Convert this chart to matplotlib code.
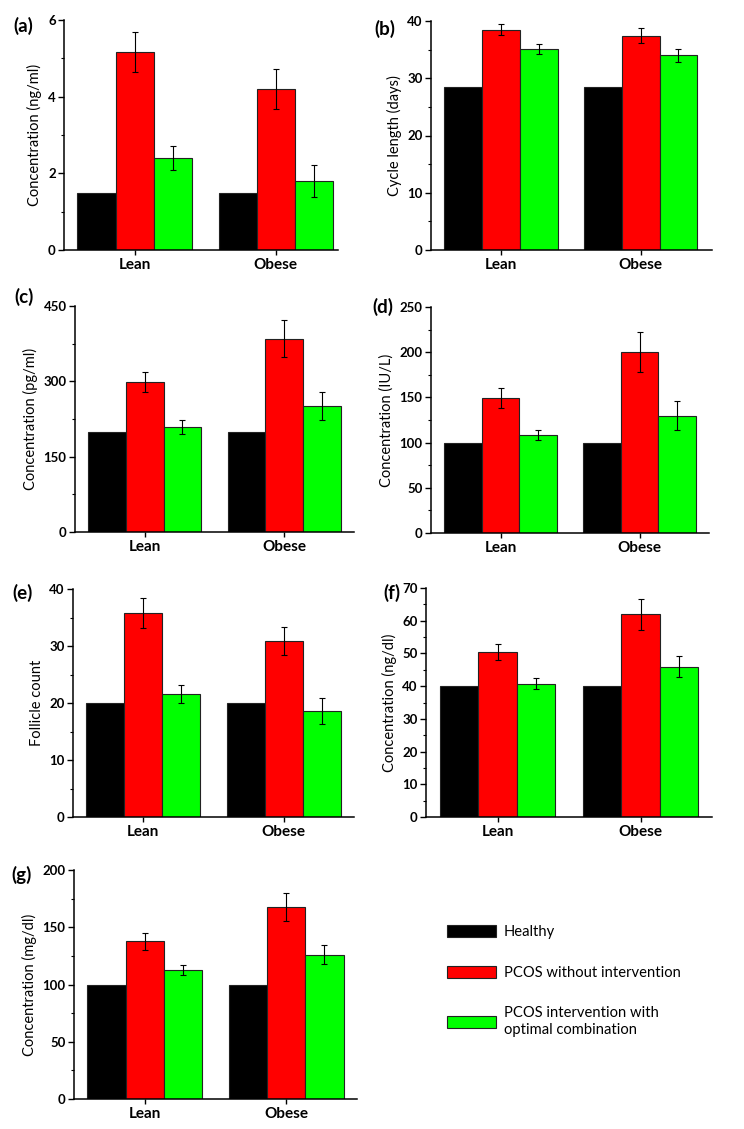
import numpy as np
import matplotlib.pyplot as plt
from matplotlib.ticker import MultipleLocator

plt.rcParams['font.family'] = ['Lato', 'DejaVu Sans']

groups = ['Lean', 'Obese']
legend_labels = ['Healthy', 'PCOS without intervention',
                 'PCOS intervention with\noptimal combination']
colors = ['#000000', '#ff0000', '#00ff00']

# (a) concentration ng/ml
a_healthy = [1.5, 1.5]
a_pcos = [5.17, 4.2]
a_pcos_err = [0.53, 0.52]
a_opt = [2.41, 1.8]
a_opt_err = [0.31, 0.43]

# (b) cycle length
b_healthy = [28.4, 28.4]
b_pcos = [38.5, 37.45]
b_pcos_err = [0.9, 1.25]
b_opt = [35.1, 34.0]
b_opt_err = [0.8, 1.1]

# (c) concentration pg/ml
c_healthy = [200, 200]
c_pcos = [298, 385]
c_pcos_err = [20, 37]
c_opt = [210, 251]
c_opt_err = [14, 27]

# (d) concentration IU/L
d_healthy = [100, 100]
d_pcos = [149, 200]
d_pcos_err = [11, 22]
d_opt = [108, 129.5]
d_opt_err = [5.5, 16]

# (e) follicle count
e_healthy = [20, 20]
e_pcos = [35.8, 30.9]
e_pcos_err = [2.6, 2.5]
e_opt = [21.6, 18.6]
e_opt_err = [1.6, 2.2]

# (f) concentration ng/dl
f_healthy = [40, 40]
f_pcos = [50.5, 61.9]
f_pcos_err = [2.4, 4.6]
f_opt = [40.7, 46.0]
f_opt_err = [1.7, 3.2]

# (g) concentration mg/dl
g_healthy = [100, 100]
g_pcos = [137.8, 167.7]
g_pcos_err = [7.5, 12]
g_opt = [112.6, 126.2]
g_opt_err = [4.6, 8.4]

ylabels = ['Concentration (ng/ml)', 'Cycle length (days)', 'Concentration (pg/ml)',
           'Concentration (IU/L)', 'Follicle count', 'Concentration (ng/dl)',
           'Concentration (mg/dl)']
panel_tags = ['(a)', '(b)', '(c)', '(d)', '(e)', '(f)', '(g)']
ymax = [6, 40, 450, 250, 40, 70, 200]
ymajor = [2, 10, 150, 50, 10, 10, 50]
yminor = [1, 5, 75, 25, 5, 5, 25]

panels = [
    (a_healthy, a_pcos, a_pcos_err, a_opt, a_opt_err),
    (b_healthy, b_pcos, b_pcos_err, b_opt, b_opt_err),
    (c_healthy, c_pcos, c_pcos_err, c_opt, c_opt_err),
    (d_healthy, d_pcos, d_pcos_err, d_opt, d_opt_err),
    (e_healthy, e_pcos, e_pcos_err, e_opt, e_opt_err),
    (f_healthy, f_pcos, f_pcos_err, f_opt, f_opt_err),
    (g_healthy, g_pcos, g_pcos_err, g_opt, g_opt_err),
]

W, H = 744, 1129
# axes boxes in pixels: left, right, top, bottom
boxes = [(64, 338, 20, 250), (431, 712, 21, 250),
         (75, 354, 306, 532), (431, 709, 307, 533),
         (73, 354, 589, 817), (426, 712, 588, 817),
         (74, 357, 870, 1099)]
xright = [1.44, 1.51, 1.5, 1.5, 1.5, 1.5, 1.5]
tag_pos = [(13, 26), (374, 29), (14, 297), (372, 307), (12, 593), (383, 593), (11, 875)]

fig = plt.figure(figsize=(W / 100, H / 100), dpi=100)

x = np.arange(len(groups))
w = 0.27
err_kw = dict(elinewidth=0.8, capsize=2, capthick=0.8, ecolor='black')
handles = None

for i, (healthy, pcos, pcos_err, opt, opt_err) in enumerate(panels):
    l, r, t, b = boxes[i]
    ax = fig.add_axes([l / W, 1 - b / H, (r - l) / W, (b - t) / H])
    hb = ax.bar(x - w, healthy, w, color=colors[0], edgecolor='#222222', linewidth=0.8)
    pb = ax.bar(x, pcos, w, yerr=pcos_err, color=colors[1], edgecolor='#222222',
                linewidth=0.8, error_kw=err_kw)
    ob = ax.bar(x + w, opt, w, yerr=opt_err, color=colors[2], edgecolor='#222222',
                linewidth=0.8, error_kw=err_kw)
    handles = [hb, pb, ob]

    ax.set_xlim(-0.5, xright[i])
    ax.set_ylim(0, ymax[i])
    ax.set_xticks(x)
    ax.set_xticklabels(groups, fontsize=11, fontweight='bold')
    ax.yaxis.set_major_locator(MultipleLocator(ymajor[i]))
    ax.yaxis.set_minor_locator(MultipleLocator(yminor[i]))
    ax.tick_params(axis='y', which='major', length=4, width=1, labelsize=9.5, pad=2)
    ax.tick_params(axis='y', which='minor', length=2.5, width=0.8)
    ax.tick_params(axis='x', length=3.5, width=1, pad=2)
    for lab in ax.get_yticklabels():
        lab.set_fontweight('bold')
    ax.spines['top'].set_visible(False)
    ax.spines['right'].set_visible(False)
    ax.spines['left'].set_linewidth(1.1)
    ax.spines['bottom'].set_linewidth(1.1)
    ax.set_ylabel(ylabels[i], fontsize=10.5, labelpad=4)

    tx, ty = tag_pos[i]
    fig.text(tx / W, 1 - ty / H, panel_tags[i], fontsize=13.5, fontweight='bold',
             ha='left', va='center')

fig.legend(handles, legend_labels, loc='upper left',
           bbox_to_anchor=(447 / W, 1 - 925 / H), frameon=False, fontsize=10.6,
           handlelength=3.3, handleheight=0.9, handletextpad=0.55,
           labelspacing=1.8, borderpad=0, borderaxespad=0)

fig.savefig('out.png', dpi=100)
